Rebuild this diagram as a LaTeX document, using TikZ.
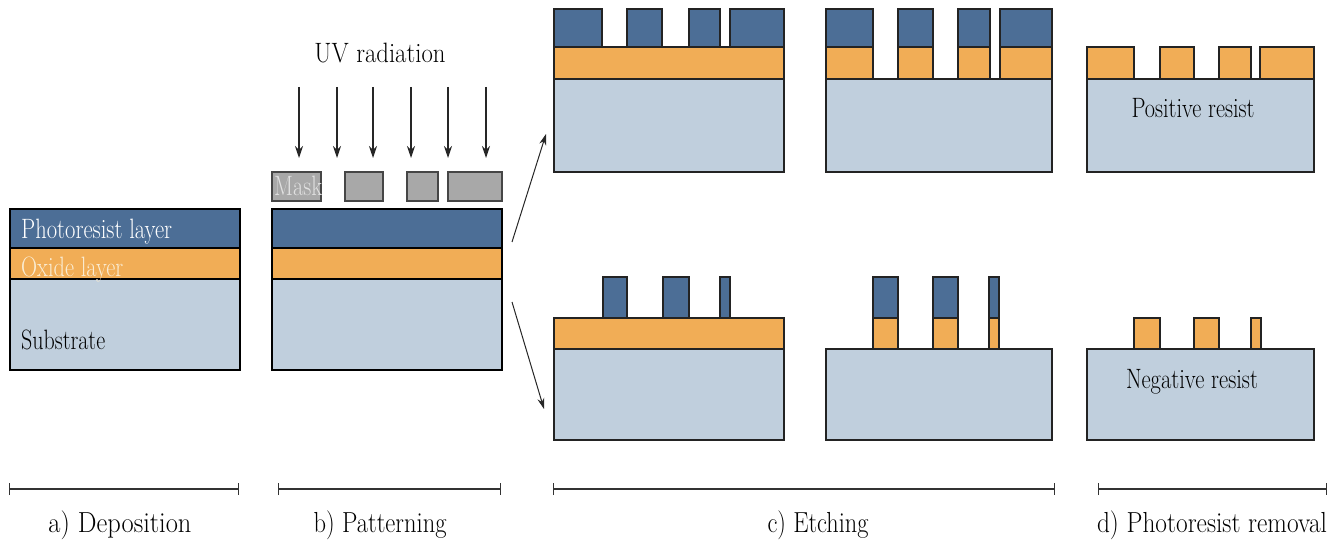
\documentclass[tikz,border=0pt]{standalone}
\usetikzlibrary{arrows.meta}
\definecolor{prc}{RGB}{76,110,150}
\definecolor{oxc}{RGB}{241,173,86}
\definecolor{subc}{RGB}{192,207,221}
\definecolor{maskc}{RGB}{168,168,168}
\definecolor{maskedge}{RGB}{70,70,70}
\definecolor{edge}{RGB}{35,35,35}
\definecolor{oxtext}{RGB}{250,236,210}
\definecolor{masktext}{RGB}{225,225,225}
\newcommand{\sqz}[2]{\resizebox{#1pt}{\height}{#2}}
\begin{document}
\begin{tikzpicture}[x=1pt,y=-1pt,
  sub/.style={fill=subc,draw=edge,line width=1.3pt},
  ox/.style={fill=oxc,draw=edge,line width=1.3pt},
  pr/.style={fill=prc,draw=edge,line width=1.3pt},
  heavy/.style={line width=2.2pt,draw=black},
  maskbox/.style={fill=maskc,draw=maskedge,line width=1.4pt},
  uvray/.style={draw=black!85,line width=1.2pt,-{Stealth[length=12pt,width=8pt]}},
  flow/.style={draw=black!85,line width=1pt,-{Stealth[length=11pt,width=7pt]}},
  scalebar/.style={draw=black!80,line width=1.6pt,{Bar[width=12pt,line width=1pt]}-{Bar[width=12pt,line width=1pt]}},
  lbl/.style={font=\fontsize{28}{32}\selectfont,inner sep=0pt},
  blbl/.style={font=\fontsize{29}{33}\selectfont,inner sep=0pt},
]
\useasboundingbox (0,0) rectangle (1341,540);

% a) Deposition and b) Patterning stacks
\foreach \x in {10,272}{
  \draw[sub,heavy] (\x,279) rectangle ++(230,91);
  \draw[ox,heavy] (\x,248) rectangle ++(230,31);
  \draw[pr,heavy] (\x,209) rectangle ++(230,39);
}

% mask
\foreach \a/\b in {272/321,345/383,407/438,448/502}
  \draw[maskbox] (\a,172) rectangle (\b,201);

% UV rays
\foreach \x [count=\i] in {299,337,373,411,448,486}{
  \coordinate (uvs\i) at (\x,87);
  \coordinate (uve\i) at (\x,158);
  \draw[uvray] (uvs\i) -- (uve\i);
}

% c) Etching, positive (top row)
\draw[sub] (554,79) rectangle (784,172);
\draw[ox] (554,47) rectangle (784,79);
\foreach \a/\b in {554/602,627/662,689/720,730/784}
  \draw[pr] (\a,9) rectangle (\b,47);

\draw[sub] (826,79) rectangle (1052,172);
\foreach \a/\b in {826/873,898/933,958/990,1000/1052}{
  \draw[ox] (\a,47) rectangle (\b,79);
  \draw[pr] (\a,9) rectangle (\b,47);
}

% d) removal, positive
\draw[sub] (1087,79) rectangle (1314,172);
\foreach \a/\b in {1087/1134,1160/1194,1219/1251,1260/1314}
  \draw[ox] (\a,47) rectangle (\b,79);

% c) Etching, negative (bottom row)
\draw[sub] (554,349) rectangle (784,440);
\draw[ox] (554,318) rectangle (784,349);
\foreach \a/\b in {603/627,663/689,720/730}
  \draw[pr] (\a,277) rectangle (\b,318);

\draw[sub] (826,349) rectangle (1052,440);
\foreach \a/\b in {873/898,933/958,989/999}{
  \draw[ox] (\a,318) rectangle (\b,349);
  \draw[pr] (\a,277) rectangle (\b,318);
}

% d) removal, negative
\draw[sub] (1087,349) rectangle (1314,440);
\foreach \a/\b in {1134/1160,1194/1219,1251/1261}
  \draw[ox] (\a,318) rectangle (\b,349);

% flow arrows
\coordinate (upfrom) at (512,242);
\coordinate (upto) at (546,134);
\coordinate (dnfrom) at (512,302);
\coordinate (dnto) at (544,409);
\draw[flow] (upfrom) -- (upto);
\draw[flow] (dnfrom) -- (dnto);

% texts
\node[lbl,anchor=base] (uv) at (380,63) {\sqz{131}{UV radiation}};
\node[lbl,anchor=base west,text=masktext] (masklbl) at (274,196) {\sqz{48}{Mask}};
\node[lbl,anchor=base west,text=white] (prlbl) at (21,239) {\sqz{151}{Photoresist layer}};
\node[lbl,anchor=base west,text=oxtext] (oxlbl) at (21,276) {\sqz{102}{Oxide layer}};
\node[lbl,anchor=base west] (sublbl) at (21,349) {\sqz{84}{Substrate}};
\node[lbl,anchor=base] (poslbl) at (1193,118) {\sqz{123}{Positive resist}};
\node[lbl,anchor=base] (neglbl) at (1192,388) {\sqz{132}{Negative resist}};

% scale bars
\coordinate (a1) at (9,489);    \coordinate (a2) at (239,489);
\coordinate (b1) at (278,489);  \coordinate (b2) at (501,489);
\coordinate (c1) at (553,489);  \coordinate (c2) at (1055,489);
\coordinate (d1) at (1098,489); \coordinate (d2) at (1327,489);
\draw[scalebar] (a1) -- (a2);
\draw[scalebar] (b1) -- (b2);
\draw[scalebar] (c1) -- (c2);
\draw[scalebar] (d1) -- (d2);

\node[blbl,anchor=base] (alb) at (120,532) {\sqz{143}{a) Deposition}};
\node[blbl,anchor=base] (blb) at (380,532) {\sqz{133}{b) Patterning}};
\node[blbl,anchor=base] (clb) at (818,532) {\sqz{101}{c) Etching}};
\node[blbl,anchor=base] (dlb) at (1212,532) {\sqz{230}{d) Photoresist removal}};
\end{tikzpicture}
\end{document}
